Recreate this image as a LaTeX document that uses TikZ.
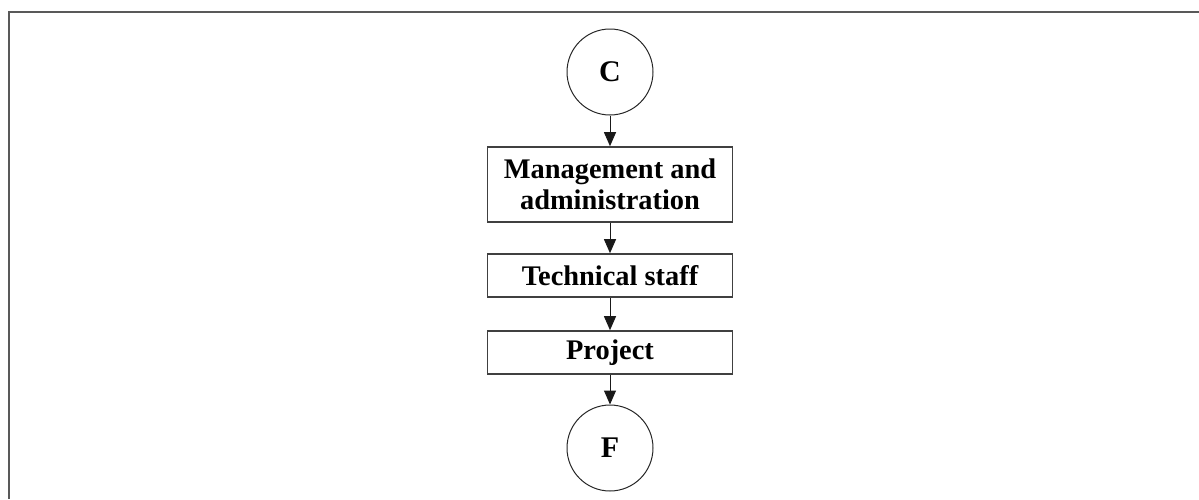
\documentclass[tikz,border=0pt]{standalone}
\usepackage{fontspec}
\setmainfont{Liberation Serif}
\usetikzlibrary{arrows.meta}

\begin{document}
\begin{tikzpicture}[x=0.5pt,y=-0.5pt]
\tikzset{
	conn/.style={circle, draw=black!85, line width=0.5pt, minimum size=43pt, inner sep=0pt, font=\fontsize{15}{17}\selectfont\bfseries},
	blk/.style={rectangle, draw=black!75, line width=0.8pt, minimum width=122.5pt, align=center, inner sep=0pt, font=\fontsize{14.2}{15.5}\selectfont\bfseries},
	flow/.style={-{Triangle[length=7pt,width=6pt]}, line width=0.5pt, black!90}
}
\useasboundingbox (0,0) rectangle (1199,499);

% frame
\draw [black!65, line width=1pt] (1199,12) -- (9,12) -- (9,499);

% connectors
\node[conn] (c_in) at(610,72) {C};
\node[conn] (f_out) at(610,448) {F};

% boxes
\node[blk, minimum height=37.5pt] (mgmt) at(610,184.5) {Management and\\administration};
\node[blk, minimum height=21.5pt] (tech) at(610,275.5) {Technical staff};
\node[blk, minimum height=21.5pt] (proj) at(610,352.5) {Project};

% arrows
\draw[flow] (c_in) -- (mgmt);
\draw[flow] (mgmt) -- (tech);
\draw[flow] (tech) -- (proj);
\draw[flow] (proj) -- (f_out);

\end{tikzpicture}
\end{document}
